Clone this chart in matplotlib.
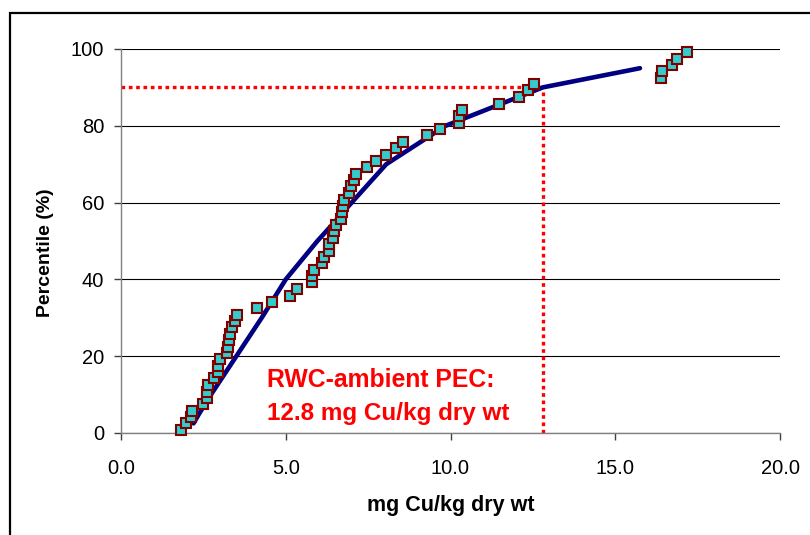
import matplotlib
matplotlib.use("Agg")
import matplotlib.pyplot as plt
from matplotlib.patches import Rectangle

plt.rcParams["font.family"] = ["Liberation Sans", "DejaVu Sans"]

# observed concentrations (mg Cu/kg dry wt) and their plotting percentiles
conc = [1.82, 1.96, 2.12, 2.15, 2.48, 2.60, 2.60, 2.65, 2.82, 2.95,
        2.95, 3.00, 3.21, 3.26, 3.28, 3.31, 3.38, 3.46, 3.51, 4.12,
        4.57, 5.13, 5.35, 5.80, 5.81, 5.86, 6.11, 6.17, 6.32, 6.32,
        6.42, 6.47, 6.52, 6.67, 6.72, 6.75, 6.78, 6.92, 6.97, 7.08,
        7.13, 7.48, 7.74, 8.05, 8.35, 8.57, 9.28, 9.68, 10.25, 10.25,
        10.35, 11.47, 12.09, 12.34, 12.53, 16.38, 16.42, 16.72, 16.88, 17.19]
pct = [0.8, 2.5, 4.2, 5.8, 7.5, 9.2, 10.8, 12.5, 14.2, 15.8,
       17.5, 19.2, 20.8, 22.5, 24.2, 25.8, 27.5, 29.2, 30.8, 32.5,
       34.2, 35.8, 37.5, 39.2, 40.8, 42.5, 44.2, 45.8, 47.5, 49.2,
       50.8, 52.5, 54.2, 55.8, 57.5, 59.2, 60.8, 62.5, 64.2, 65.8,
       67.5, 69.2, 70.8, 72.5, 74.2, 75.8, 77.5, 79.2, 80.8, 82.5,
       84.2, 85.8, 87.5, 89.2, 90.8, 92.5, 94.2, 95.8, 97.5, 99.2]

# fitted distribution curve
fit_conc = [2.2, 2.37, 2.73, 3.5, 4.27, 5.0, 5.48, 5.96, 6.49, 7.0,
            8.05, 9.85, 12.8, 15.75]
fit_pct = [2.5, 5, 10, 20, 30, 40, 45, 50, 55, 60, 70, 80, 90, 95]

pec_value = 12.8
pec_pct = 90
pec_text = ["RWC-ambient PEC:", "12.8 mg Cu/kg dry wt"]

x_ticks = [0, 5, 10, 15, 20]
y_ticks = [0, 20, 40, 60, 80, 100]

fig = plt.figure(figsize=(8.1, 5.35), dpi=100)
ax = fig.add_axes([121 / 810, 102 / 535, 659 / 810, 384 / 535])

# outer chart frame (cut off at right/bottom like the original)
fig.patches.append(Rectangle((10 / 810, -0.2), 1.2, 1.2 - 13 / 535,
                             transform=fig.transFigure, fill=False,
                             edgecolor="black", linewidth=1.6, clip_on=False))

# PEC reference lines
ax.plot([0, pec_value], [pec_pct, pec_pct], color="#FF0000", linewidth=2.4,
        linestyle=(0, (1.1, 1.1)), zorder=2, clip_on=False)
ax.plot([pec_value, pec_value], [0, pec_pct], color="#FF0000", linewidth=2.4,
        linestyle=(0, (1.1, 1.1)), zorder=2)

ax.plot(fit_conc, fit_pct, color="#000080", linewidth=3.3,
        solid_capstyle="round", solid_joinstyle="round", zorder=3)
ax.plot(conc, pct, linestyle="none", marker="s", markersize=6.8,
        markerfacecolor="#33CCCC", markeredgecolor="#800000",
        markeredgewidth=1.5, zorder=4, clip_on=False)

ax.text(4.44, 12.06, pec_text[0], color="#FF0000", fontsize=17.8,
        fontweight="bold", va="baseline", ha="left", zorder=5)
ax.text(4.44, 3.39, pec_text[1], color="#FF0000", fontsize=17.5,
        fontweight="bold", va="baseline", ha="left", zorder=5)

ax.set_xlim(0, 20)
ax.set_ylim(0, 100)
ax.set_xticks(x_ticks)
ax.set_xticklabels([f"{v:.1f}" for v in x_ticks])
ax.set_yticks(y_ticks)
ax.yaxis.grid(True, color="black", linewidth=0.8)
ax.set_axisbelow(True)
for side in ["top", "right"]:
    ax.spines[side].set_visible(False)
for side in ["left", "bottom"]:
    ax.spines[side].set_color("#808080")
    ax.spines[side].set_linewidth(1.0)
ax.tick_params(axis="both", direction="out", length=5, width=1,
               color="#404040", labelsize=14.5)
ax.tick_params(axis="x", pad=14)
ax.tick_params(axis="y", pad=7)

fig.text(45 / 810, 1 - 253 / 535, "Percentile (%)", rotation=90,
         ha="center", va="center", fontsize=14, fontweight="bold")
fig.text(451 / 810, 1 - 505 / 535, "mg Cu/kg dry wt",
         ha="center", va="center", fontsize=15.5, fontweight="bold")

fig.savefig("out.png", dpi=100)
